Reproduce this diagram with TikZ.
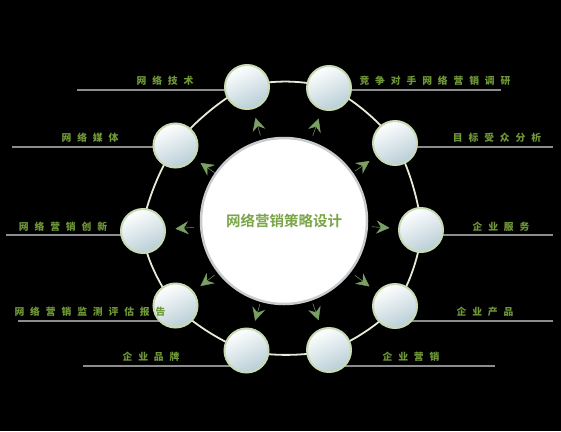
\documentclass[tikz,border=0pt]{standalone}
\usepackage{fontspec}
\newfontfamily\cjk[LetterSpace=60]{Noto Sans CJK SC}
\newfontfamily\cjktitle{Noto Sans CJK SC Bold}
\usetikzlibrary{calc,arrows.meta}

\definecolor{labelgreen}{RGB}{112,152,56}
\definecolor{titlegreen}{RGB}{122,166,72}
\definecolor{ringcol}{RGB}{230,235,215}
\definecolor{leadergray}{RGB}{140,140,140}
\definecolor{ballrim}{RGB}{200,218,180}
\definecolor{ballblue}{RGB}{184,206,214}
\definecolor{tipgreen}{RGB}{122,160,100}
\definecolor{hubrim}{RGB}{200,204,206}

\begin{document}
\begin{tikzpicture}[x=1pt,y=-1pt,
	ball/.style={circle, minimum size=44pt, inner sep=0pt, draw=ballrim,
		line width=2pt, top color=white, bottom color=ballblue, shading angle=25},
	hub/.style={circle, minimum size=166pt, inner sep=0pt, fill=white,
		draw=hubrim, line width=2.5pt, text=titlegreen,
		font=\cjktitle\fontsize{14.5}{16}\selectfont},
	lbl/.style={text=labelgreen, inner sep=0pt,
		font=\cjk\bfseries\fontsize{9.8}{11}\selectfont},
	leader/.style={draw=leadergray, line width=1.3pt},
	ring/.style={draw=ringcol, line width=1.8pt},
	tip/.style={draw=tipgreen, fill=tipgreen, line width=0.4pt,
		-{Stealth[length=13pt, width=13pt, inset=4.5pt]}}]

% background, frame %{{{1

	\fill[black] (0,0) rectangle (561,431);
	\useasboundingbox (0,0) rectangle (561,431);

% coordinates %{{{1

	\coordinate (o) at (284,221);

	\coordinate (p1) at (247,87);
	\coordinate (p2) at (329,88);
	\coordinate (p3) at (395,143);
	\coordinate (p4) at (421,230);
	\coordinate (p5) at (395,306);
	\coordinate (p6) at (329,350);
	\coordinate (p7) at (246.5,350.5);
	\coordinate (p8) at (175.5,305.5);
	\coordinate (p9) at (143,231);
	\coordinate (p10) at (175.5,145.5);

	% free ends of the leaders
	\coordinate (l1) at (77,90);
	\coordinate (l2) at (501,90);
	\coordinate (l3) at (553,147);
	\coordinate (l4) at (553,235);
	\coordinate (l5) at (553,321);
	\coordinate (l6) at (495,366);
	\coordinate (l7) at (83,366);
	\coordinate (l8) at (18,321);
	\coordinate (l9) at (6,235);
	\coordinate (l10) at (12,147);

% ring %{{{1

	\draw[ring] plot[smooth cycle] coordinates
		{(p1) (p2) (p3) (p4) (p5) (p6) (p7) (p8) (p9) (p10)};

% leaders %{{{1

	\draw[leader] (l1) -- (l1 -| p1);
	\draw[leader] (l2) -- (l2 -| p2);
	\draw[leader] (l3) -- (l3 -| p3);
	\draw[leader] (l4) -- (l4 -| p4);
	\draw[leader] (l5) -- (l5 -| p5);
	\draw[leader] (l6) -- (l6 -| p6);
	\draw[leader] (l7) -- (l7 -| p7);
	\draw[leader] (l8) -- (l8 -| p8);
	\draw[leader] (l9) -- (l9 -| p9);
	\draw[leader] (l10) -- (l10 -| p10);

% hub %{{{1

	\node[hub] (ctr) at (o) {网络营销策略设计};

% balls %{{{1

	\node[ball] (c1) at (p1) {};
	\node[ball] (c2) at (p2) {};
	\node[ball] (c3) at (p3) {};
	\node[ball] (c4) at (p4) {};
	\node[ball] (c5) at (p5) {};
	\node[ball] (c6) at (p6) {};
	\node[ball] (c7) at (p7) {};
	\node[ball] (c8) at (p8) {};
	\node[ball] (c9) at (p9) {};
	\node[ball] (c10) at (p10) {};

% arrow tips %{{{1

	\draw[tip] ($(o)!0.64!(c1)$) -- ($(o)!0.77!(c1)$);
	\draw[tip] ($(o)!0.64!(c2)$) -- ($(o)!0.77!(c2)$);
	\draw[tip] ($(o)!0.64!(c3)$) -- ($(o)!0.77!(c3)$);
	\draw[tip] ($(o)!0.64!(c4)$) -- ($(o)!0.77!(c4)$);
	\draw[tip] ($(o)!0.64!(c5)$) -- ($(o)!0.77!(c5)$);
	\draw[tip] ($(o)!0.64!(c6)$) -- ($(o)!0.77!(c6)$);
	\draw[tip] ($(o)!0.64!(c7)$) -- ($(o)!0.77!(c7)$);
	\draw[tip] ($(o)!0.64!(c8)$) -- ($(o)!0.77!(c8)$);
	\draw[tip] ($(o)!0.64!(c9)$) -- ($(o)!0.77!(c9)$);
	\draw[tip] ($(o)!0.64!(c10)$) -- ($(o)!0.77!(c10)$);

% labels %{{{1

	\node[lbl] (t1) at (165,81) {网络技术};
	\node[lbl] (t2) at (435,81) {竞争对手网络营销调研};
	\node[lbl] (t3) at (497,138) {目标受众分析};
	\node[lbl] (t4) at (501,227) {企业服务};
	\node[lbl] (t5) at (485,312) {企业产品};
	\node[lbl] (t6) at (411,357) {企业营销};
	\node[lbl] (t7) at (151,357) {企业品牌};
	\node[lbl] (t8) at (90,312) {网络营销监测评估报告};
	\node[lbl] (t9) at (63,227) {网络营销创新};
	\node[lbl] (t10) at (90,138) {网络媒体};

% closing %{{{1

\end{tikzpicture}
\end{document}
